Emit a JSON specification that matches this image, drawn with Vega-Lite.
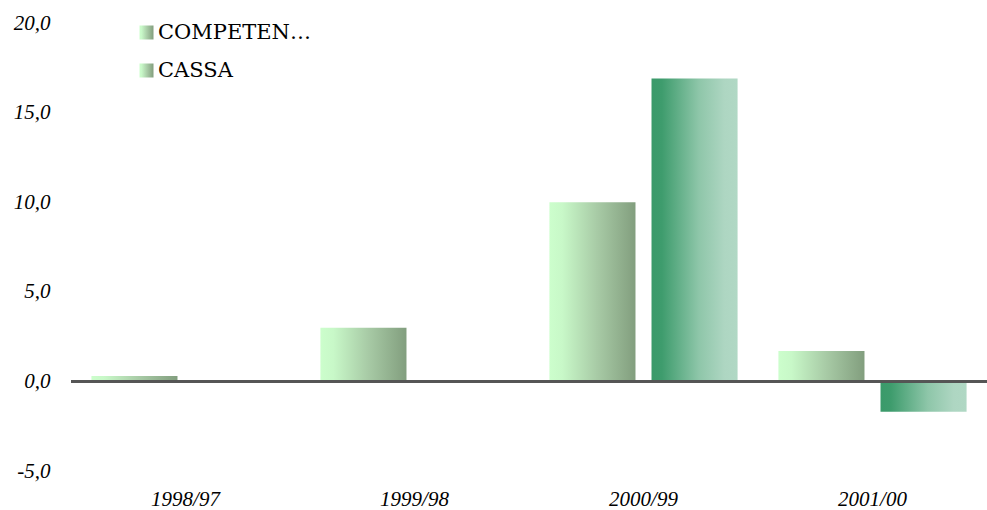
{
  "$schema": "https://vega.github.io/schema/vega-lite/v6.json",
  "autosize": {"type": "none"},
  "width": 916,
  "height": 448,
  "padding": {"left": 71, "top": 23, "right": 0, "bottom": 39},
  "background": "white",
  "data": {
    "values": [
      {"anno": "1998/97", "serie": "COMPETENZA", "valore": 0.3},
      {"anno": "1999/98", "serie": "COMPETENZA", "valore": 3.0},
      {"anno": "2000/99", "serie": "COMPETENZA", "valore": 10.0},
      {"anno": "2000/99", "serie": "CASSA", "valore": 16.9},
      {"anno": "2001/00", "serie": "COMPETENZA", "valore": 1.7},
      {"anno": "2001/00", "serie": "CASSA", "valore": -1.7}
    ]
  },
  "layer": [
    {
      "mark": {"type": "bar"},
      "encoding": {
        "x": {
          "field": "anno", "type": "nominal",
          "sort": ["1998/97", "1999/98", "2000/99", "2001/00"],
          "scale": {"domain": ["1998/97", "1999/98", "2000/99", "2001/00"], "paddingInner": 0, "paddingOuter": 0},
          "axis": {
            "title": null, "domain": false, "ticks": false, "labelAngle": 0,
            "labelFont": "Liberation Serif, serif", "labelFontStyle": "italic",
            "labelFontSize": 21, "labelColor": "#000000", "labelPadding": 17
          }
        },
        "xOffset": {
          "field": "serie", "type": "nominal",
          "scale": {"domain": ["COMPETENZA", "CASSA"], "paddingInner": 0.157, "paddingOuter": 0.2}
        },
        "y": {
          "field": "valore", "type": "quantitative",
          "scale": {"domain": [-5, 20], "nice": false, "zero": false},
          "axis": {
            "title": null, "domain": false, "ticks": false, "grid": false,
            "values": [-5, 0, 5, 10, 15, 20],
            "labelExpr": "(datum.value < 0 ? '-' : '') + replace(format(abs(datum.value), '.1f'), '.', ',')",
            "labelFont": "Liberation Serif, serif", "labelFontStyle": "italic",
            "labelFontSize": 21, "labelColor": "#000000", "labelPadding": 21
          }
        },
        "color": {
          "condition": {
            "test": "datum.serie === 'CASSA'",
            "value": {"gradient": "linear", "x1": 0, "y1": 0, "x2": 1, "y2": 0,
              "stops": [
                {"offset": 0, "color": "#3A9A6A"},
                {"offset": 0.12, "color": "#3E9C6D"},
                {"offset": 0.55, "color": "#8EC6A9"},
                {"offset": 0.85, "color": "#AED6C2"},
                {"offset": 1, "color": "#B0D8C4"}
              ]}
          },
          "value": {"gradient": "linear", "x1": 0, "y1": 0, "x2": 1, "y2": 0,
            "stops": [
              {"offset": 0, "color": "#CCFECC"},
              {"offset": 0.15, "color": "#C8F8C8"},
              {"offset": 0.55, "color": "#A8CBA6"},
              {"offset": 1, "color": "#829E7E"}
            ]}
        },
        "opacity": {
          "field": "serie", "type": "nominal",
          "scale": {"domain": ["COMPETENZA", "CASSA"], "range": [1, 1]},
          "legend": {
            "title": null, "orient": "none", "legendX": 65, "legendY": -1, "padding": 0,
            "symbolType": "square", "symbolSize": 196, "symbolStrokeWidth": 0,
            "labelFont": "DejaVu Serif",
            "labelFontSize": 21, "labelColor": "#000000",
            "labelOffset": 1, "rowPadding": 16,
            "encode": {
              "symbols": {
                "update": {
                  "fill": {"signal": "datum.label === 'CASSA' ? '#3A9A6A' : '#C8F8C8'"}
                }
              }
            }
          }
        }
      }
    },
    {
      "mark": {"type": "rule", "color": "#555555", "strokeWidth": 2},
      "encoding": {
        "y": {"datum": 0, "type": "quantitative"}
      }
    }
  ],
  "config": {
    "view": {"stroke": null}
  }
}
